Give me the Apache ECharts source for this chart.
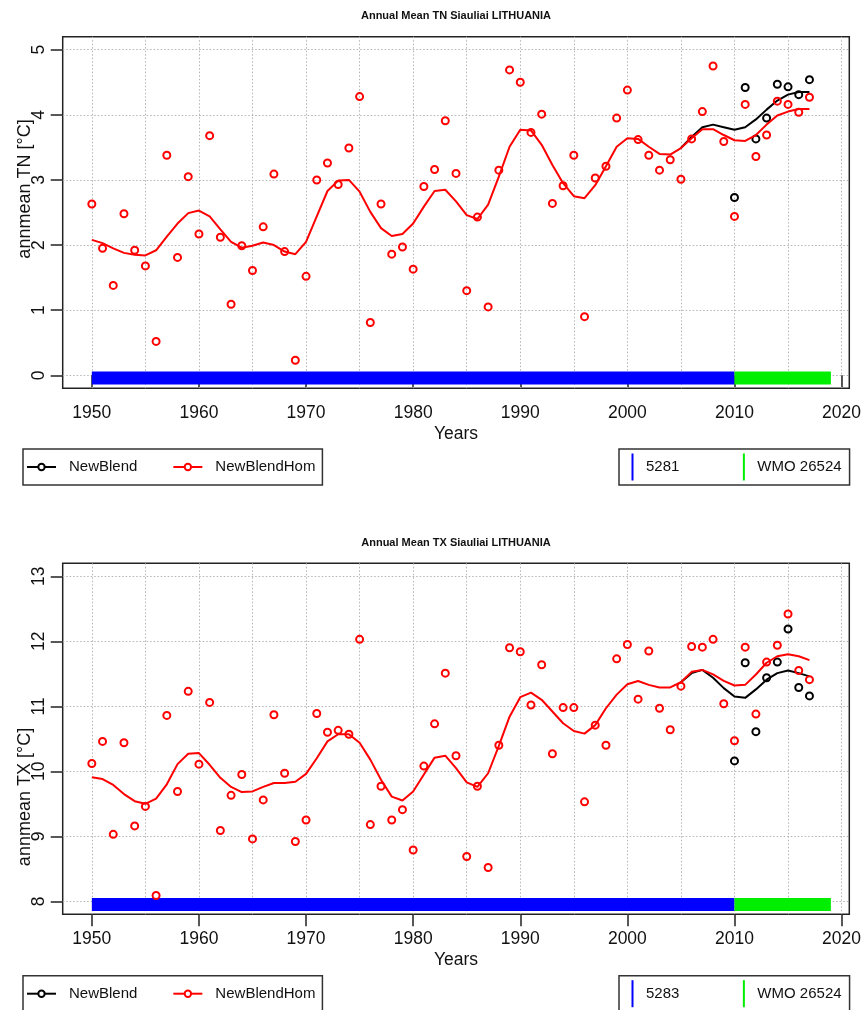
<!DOCTYPE html>
<html>
<head>
<meta charset="utf-8">
<script src="https://cdn.jsdelivr.net/npm/echarts@6/dist/echarts.min.js"></script>
<style>
html, body { margin: 0; padding: 0; background: #fff; }
#chart { width: 865px; height: 1010px; }
</style>
</head>
<body>
<div id="chart"></div>
<script>
// years 1950..2017
const years = [];
for (let y = 1950; y <= 2017; y++) years.push(y);

// TN (annual mean minimum temperature)
const tnHom = [
  2.63, 1.95, 1.38, 2.48, 1.92, 1.68, 0.52, 3.38, 1.81, 3.05,
  2.17, 3.68, 2.12, 1.09, 1.99, 1.61, 2.28, 3.09, 1.90, 0.23,
  1.52, 3.00, 3.26, 2.93, 3.49, 4.28, 0.81, 2.63, 1.86, 1.97,
  1.63, 2.90, 3.16, 3.91, 3.10, 1.30, 2.43, 1.05, 3.15, 4.69,
  4.50, 3.73, 4.01, 2.64, 2.91, 3.38, 0.90, 3.03, 3.21, 3.95,
  4.38, 3.62, 3.38, 3.15, 3.31, 3.01, 3.63, 4.05, 4.75, 3.59,
  2.44, 4.16, 3.36, 3.69, 4.21, 4.16, 4.04, 4.27
];
const tnBlendTail = [2.73, 4.42, 3.63, 3.95, 4.47, 4.43, 4.31, 4.54]; // 2010..2017
const tnHomSmooth = [
  2.08, 2.03, 1.95, 1.88, 1.85, 1.84, 1.92, 2.13, 2.33, 2.49,
  2.53, 2.44, 2.24, 2.05, 1.96, 1.99, 2.04, 2.00, 1.90, 1.86,
  2.05, 2.44, 2.83, 2.99, 3.00, 2.82, 2.51, 2.26, 2.14, 2.17,
  2.33, 2.59, 2.83, 2.85, 2.67, 2.46, 2.40, 2.62, 3.05, 3.51,
  3.77, 3.76, 3.54, 3.23, 2.95, 2.75, 2.72, 2.92, 3.21, 3.51,
  3.64, 3.63, 3.51, 3.40, 3.39, 3.49, 3.64, 3.78, 3.78, 3.69,
  3.61, 3.60, 3.69, 3.85, 3.99, 4.05, 4.09, 4.09
];
const tnBlendSmoothTail = [3.66, 3.81, 3.85, 3.81, 3.77, 3.81, 3.93, 4.08, 4.22, 4.31, 4.35, 4.35]; // 2006..2017

// TX (annual mean maximum temperature)
const txHom = [
  10.12, 10.46, 9.03, 10.44, 9.16, 9.46, 8.09, 10.86, 9.69, 11.23,
  10.11, 11.06, 9.09, 9.63, 9.95, 8.96, 9.56, 10.87, 9.97, 8.92,
  9.25, 10.89, 10.60, 10.63, 10.57, 12.03, 9.18, 9.77, 9.25, 9.41,
  8.79, 10.08, 10.73, 11.51, 10.24, 8.69, 9.77, 8.52, 10.40, 11.90,
  11.84, 11.02, 11.64, 10.27, 10.98, 10.98, 9.53, 10.71, 10.40, 11.73,
  11.95, 11.11, 11.85, 10.97, 10.64, 11.31, 11.92, 11.91, 12.03, 11.04,
  10.47, 11.91, 10.88, 11.68, 11.94, 12.42, 11.55, 11.41
];
const txBlendTail = [10.16, 11.67, 10.61, 11.44, 11.68, 12.19, 11.29, 11.16]; // 2010..2017
const txHomSmooth = [
  9.91, 9.88, 9.79, 9.65, 9.54, 9.50, 9.58, 9.80, 10.11, 10.27,
  10.28, 10.10, 9.90, 9.76, 9.68, 9.69, 9.76, 9.82, 9.82, 9.84,
  9.96, 10.20, 10.46, 10.57, 10.57, 10.44, 10.18, 9.87, 9.61, 9.55,
  9.69, 9.95, 10.21, 10.24, 10.05, 9.83, 9.76, 9.97, 10.39, 10.84,
  11.14, 11.21, 11.10, 10.92, 10.74, 10.62, 10.58, 10.71, 10.97, 11.18,
  11.34, 11.39, 11.33, 11.29, 11.29, 11.37, 11.53, 11.56, 11.49, 11.39,
  11.32, 11.33, 11.49, 11.67, 11.77, 11.80, 11.77, 11.71
];
const txBlendSmoothTail = [11.51, 11.56, 11.44, 11.28, 11.15, 11.13, 11.26, 11.41, 11.51, 11.55, 11.51, 11.46]; // 2006..2017

// NewBlend equals NewBlendHom before the station change
const tnBlend = tnHom.slice(0, 60).concat(tnBlendTail);
const txBlend = txHom.slice(0, 60).concat(txBlendTail);
const tnBlendSmooth = tnHomSmooth.slice(0, 56).concat(tnBlendSmoothTail);
const txBlendSmooth = txHomSmooth.slice(0, 56).concat(txBlendSmoothTail);

// station periods
const stationNamesTN = ['5281', 'WMO 26524'];
const stationNamesTX = ['5283', 'WMO 26524'];
const stationSpans = [[1950, 2010], [2010, 2019]];
const stationLevelTN = -0.04;
const stationLevelTX = 7.95;

// axes
const decadeTicks = [1950, 1960, 1970, 1980, 1990, 2000, 2010, 2020];
const gridYears = [1950, 1955, 1960, 1965, 1970, 1975, 1980, 1985, 1990, 1995, 2000, 2005, 2010, 2015, 2020];
const tnTicks = [0, 1, 2, 3, 4, 5];
const txTicks = [8, 9, 10, 11, 12, 13];

const FONT = "'Liberation Sans', Arial, sans-serif";
const INK = '#111';
const stationColors = ['#0000ff', '#00ee00'];

const pairs = vals => vals.map((v, i) => [years[i], v]);

// black marks hidden under identical red ones are skipped (they only darken the red edges)
function onlyDiffering(blend, hom) {
  return pairs(blend).filter((p, i) => blend[i] !== hom[i]);
}
function lineFromDeparture(blend, hom) {
  let first = blend.findIndex((v, i) => v !== hom[i]);
  return pairs(blend).slice(Math.max(0, first - 1));
}

function panelSeries(xi, yi, hom, blend, homSmooth, blendSmooth, names, level) {
  const common = { xAxisIndex: xi, yAxisIndex: yi, animation: false, emphasis: { disabled: true } };
  const list = [
    Object.assign({ name: 'NewBlend', type: 'line', data: lineFromDeparture(blendSmooth, homSmooth),
      symbol: 'emptyCircle', showSymbol: false, color: '#000', lineStyle: { width: 2 }, z: 3 }, common),
    Object.assign({ name: 'NewBlend', type: 'scatter', data: onlyDiffering(blend, hom), symbol: 'circle', symbolSize: 7,
      itemStyle: { color: 'transparent', borderColor: '#000', borderWidth: 2, opacity: 1 }, z: 3 }, common),
    Object.assign({ name: 'NewBlendHom', type: 'line', data: pairs(homSmooth), symbol: 'emptyCircle', showSymbol: false,
      color: '#ff0000', lineStyle: { width: 2 }, z: 4 }, common),
    Object.assign({ name: 'NewBlendHom', type: 'scatter', data: pairs(hom), symbol: 'circle', symbolSize: 7,
      itemStyle: { color: 'transparent', borderColor: '#ff0000', borderWidth: 2, opacity: 1 }, z: 4 }, common)
  ];
  names.forEach((n, k) => {
    list.push(Object.assign({
      name: n, type: 'line', symbol: 'none', color: stationColors[k],
      data: [[stationSpans[k][0], level], [stationSpans[k][1], level]],
      lineStyle: { width: 13, cap: 'butt' }, z: 2
    }, common));
  });
  return list;
}

function xAxes(gi) {
  return [
    {
      gridIndex: gi, type: 'value', min: 1947.28, max: 2020.72, position: 'bottom',
      axisLine: { show: false },
      axisTick: { show: true, length: 12, customValues: decadeTicks, lineStyle: { color: '#222', width: 1.5 } },
      axisLabel: { customValues: decadeTicks, margin: 16, fontSize: 17.5, fontFamily: FONT, color: INK,
        formatter: v => String(v) },
      splitLine: { show: false },
      name: 'Years', nameLocation: 'middle', nameGap: 37,
      nameTextStyle: { fontSize: 17.5, fontFamily: FONT, color: INK }
    },
    {
      gridIndex: gi, type: 'value', min: 1947.28, max: 2020.72, position: 'top',
      axisLine: { show: false },
      axisTick: { show: false, customValues: gridYears },
      axisLabel: { show: false },
      splitLine: { show: true, lineStyle: { color: '#b5b5b5', width: 1, type: [1.5, 2] } }
    }
  ];
}

function yAxis(gi, min, max, ticks) {
  return {
    gridIndex: gi, type: 'value', min: min, max: max,
    axisLine: { show: false },
    axisTick: { show: true, length: 12, customValues: ticks, lineStyle: { color: '#222', width: 1.5 } },
    axisLabel: { customValues: ticks, rotate: 90, margin: 15, fontSize: 17.5, fontFamily: FONT, color: INK,
      formatter: v => String(v) },
    splitLine: { show: true, lineStyle: { color: '#b5b5b5', width: 1, type: [1.5, 2] } }
  };
}

function lineLegend(top) {
  return {
    data: ['NewBlend', 'NewBlendHom'], left: 23, top: top, orient: 'horizontal',
    itemWidth: 29, itemHeight: 8, itemGap: 35, padding: [10.5, 7, 10.5, 3],
    borderColor: '#333', borderWidth: 1.5, borderRadius: 0, selectedMode: false,
    textStyle: { fontSize: 15, fontFamily: FONT, color: INK, padding: [0, 0, 0, 8], lineHeight: 15 }
  };
}

function stationLegend(top, names) {
  return {
    data: names.map(n => ({ name: n, icon: 'rect' })), left: 619, top: top, orient: 'horizontal',
    itemWidth: 2, itemHeight: 27, itemGap: 63.5, padding: [4.5, 8, 4.5, 12.5],
    borderColor: '#333', borderWidth: 1.5, borderRadius: 0, selectedMode: false,
    itemStyle: { borderWidth: 0 },
    textStyle: { fontSize: 15, fontFamily: FONT, color: INK, padding: [0, 0, 0, 7.5] }
  };
}

function label(text, x, y, font, rot) {
  return {
    type: 'text', x: x, y: y, rotation: rot || 0, silent: true,
    style: { text: text, font: font, fill: INK, align: 'center', verticalAlign: 'middle' }
  };
}

const chart = echarts.init(document.getElementById('chart'), null, { renderer: 'canvas' });
chart.setOption({
  animation: false,
  backgroundColor: '#fff',
  grid: [
    { left: 62.7, top: 36.7, width: 786.6, height: 351.6, show: true, borderColor: '#222', borderWidth: 1.5,
      backgroundColor: 'transparent', containLabel: false, outerBoundsMode: 'none' },
    { left: 62.7, top: 563.3, width: 786.6, height: 351, show: true, borderColor: '#222', borderWidth: 1.5,
      backgroundColor: 'transparent', containLabel: false, outerBoundsMode: 'none' }
  ],
  xAxis: xAxes(0).concat(xAxes(1)),
  yAxis: [yAxis(0, -0.2, 5.2, tnTicks), yAxis(1, 7.8, 13.2, txTicks)],
  legend: [
    lineLegend(449), stationLegend(449, stationNamesTN),
    lineLegend(975.7), stationLegend(975.7, stationNamesTX)
  ],
  graphic: [
    label('Annual Mean TN Siauliai LITHUANIA', 456, 15.7, 'bold 11px ' + FONT),
    label('Annual Mean TX Siauliai LITHUANIA', 456, 542.5, 'bold 11px ' + FONT),
    label('annmean TN [°C]', 25, 189, '18px ' + FONT, Math.PI / 2),
    label('annmean TX [°C]', 25, 797, '18px ' + FONT, Math.PI / 2)
  ],
  series: panelSeries(0, 0, tnHom, tnBlend, tnHomSmooth, tnBlendSmooth, stationNamesTN, stationLevelTN)
    .concat(panelSeries(2, 1, txHom, txBlend, txHomSmooth, txBlendSmooth, stationNamesTX, stationLevelTX))
});
</script>
</body>
</html>
